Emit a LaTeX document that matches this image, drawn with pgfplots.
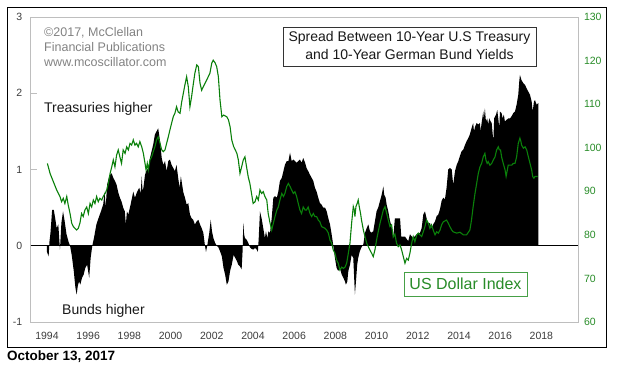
\documentclass[border=0pt]{standalone}
\usepackage{pgfplots}
\pgfplotsset{compat=1.18}
\usepackage{fontspec}
\setmainfont{Liberation Sans}
\definecolor{lgreen}{RGB}{10,128,10}
\definecolor{tgreen}{RGB}{40,140,40}
\definecolor{bgreen}{RGB}{70,160,70}
\definecolor{frame}{RGB}{190,190,190}
\definecolor{cgray}{RGB}{130,130,130}
\definecolor{tkgray}{RGB}{60,60,60}
\begin{document}
\begin{tikzpicture}[x=1pt,y=1pt]
\path (0,0) rectangle (629,369);
\draw[black, line width=0.9pt] (7,22) rectangle (606,362);
\begin{axis}[
  at={(30.7pt,47pt)}, anchor=south west, scale only axis,
  width=547.3pt, height=305pt,
  xmin=1993.21, xmax=2019.78, ymin=-1, ymax=3,
  axis line style={frame, line width=0.8pt},
  xtick={1994,1996,...,2018},
  xticklabels={1994,1996,1998,2000,2002,2004,2006,2008,2010,2012,2014,2016,2018},
  ytick={-1,0,1,2,3},
  yticklabels={-1,0,1,2,3},
  ytick pos=left, tick align=inside, major tick length=6pt,
  xtick style={draw=none},
  ytick style={frame, line width=0.8pt},
  tick label style={font=\fontsize{10.5}{12}\selectfont, text=tkgray},
  yticklabel style={xshift=-5pt},
  xticklabel style={yshift=-7pt},
]
\addplot[fill=black, draw=none] coordinates {
(1994.00,-0.08) (1994.08,-0.14) (1994.12,0.05) (1994.17,0.17) (1994.25,0.47) (1994.33,0.47)
(1994.40,0.36) (1994.47,0.23) (1994.55,0.28) (1994.63,-0.05) (1994.70,0.30) (1994.78,0.45)
(1994.86,0.32) (1994.95,0.15) (1995.05,0.05) (1995.12,0.00) (1995.20,-0.12) (1995.30,-0.33)
(1995.38,-0.55) (1995.44,-0.64) (1995.50,-0.52) (1995.56,-0.47) (1995.62,-0.51) (1995.70,-0.42)
(1995.78,-0.38) (1995.86,-0.29) (1995.95,-0.25) (1996.05,-0.42) (1996.12,-0.16) (1996.20,0.00)
(1996.28,0.10) (1996.40,0.28) (1996.50,0.36) (1996.62,0.45) (1996.73,0.54) (1996.80,0.71)
(1996.85,0.50) (1996.92,0.80) (1997.00,0.89) (1997.06,0.93) (1997.14,0.95) (1997.22,0.89)
(1997.30,0.85) (1997.38,0.80) (1997.46,0.70) (1997.54,0.63) (1997.62,0.58) (1997.70,0.50)
(1997.78,0.45) (1997.83,0.28) (1997.88,0.45) (1997.95,0.41) (1998.06,0.54) (1998.19,0.71)
(1998.27,0.63) (1998.38,0.71) (1998.48,0.76) (1998.55,0.69) (1998.60,0.91) (1998.64,0.72)
(1998.68,0.76) (1998.76,0.93) (1998.82,0.98) (1998.92,1.02) (1999.00,1.15) (1999.08,1.24)
(1999.16,1.33) (1999.24,1.46) (1999.32,1.50) (1999.40,1.54) (1999.49,1.37) (1999.57,1.15)
(1999.65,1.06) (1999.73,1.11) (1999.81,0.98) (1999.89,1.11) (1999.97,1.13) (2000.05,1.06)
(2000.13,1.02) (2000.21,0.98) (2000.29,1.06) (2000.37,0.89) (2000.44,0.76) (2000.50,0.91)
(2000.62,0.70) (2000.70,0.63) (2000.78,0.54) (2000.86,0.56) (2000.94,0.41) (2001.02,0.36)
(2001.10,0.34) (2001.18,0.28) (2001.27,0.32) (2001.35,0.34) (2001.43,0.28) (2001.51,0.23)
(2001.59,0.17) (2001.67,0.00) (2001.72,-0.08) (2001.78,0.00) (2001.88,0.17) (2001.95,0.34)
(2002.01,0.19) (2002.08,0.10) (2002.16,0.04) (2002.24,0.00) (2002.32,-0.02) (2002.40,-0.07)
(2002.49,-0.14) (2002.57,-0.29) (2002.65,-0.38) (2002.73,-0.51) (2002.81,-0.47) (2002.89,-0.33)
(2002.97,-0.25) (2003.06,-0.12) (2003.14,-0.16) (2003.22,-0.20) (2003.29,-0.25) (2003.37,-0.27)
(2003.45,-0.31) (2003.50,-0.05) (2003.53,0.30) (2003.57,0.15) (2003.61,0.10) (2003.69,0.08)
(2003.77,0.04) (2003.85,-0.02) (2003.93,-0.04) (2004.01,-0.05) (2004.10,-0.03) (2004.18,-0.05)
(2004.24,-0.08) (2004.28,0.10) (2004.34,0.45) (2004.42,0.36) (2004.50,0.23) (2004.58,0.10)
(2004.63,0.19) (2004.70,0.10) (2004.75,0.19) (2004.83,0.17) (2004.91,0.36) (2004.99,0.63)
(2005.07,0.65) (2005.16,0.63) (2005.23,0.71) (2005.31,0.85) (2005.40,0.89) (2005.48,0.98)
(2005.55,1.06) (2005.64,1.11) (2005.72,1.11) (2005.80,1.22) (2005.88,1.11) (2005.96,1.13)
(2006.04,1.11) (2006.12,1.09) (2006.20,1.11) (2006.28,1.13) (2006.36,1.09) (2006.44,1.15)
(2006.53,1.09) (2006.60,1.02) (2006.68,0.98) (2006.77,0.93) (2006.85,0.89) (2006.93,0.85)
(2007.01,0.76) (2007.09,0.71) (2007.17,0.63) (2007.25,0.56) (2007.33,0.54) (2007.41,0.50)
(2007.50,0.50) (2007.58,0.45) (2007.66,0.36) (2007.74,0.28) (2007.82,0.15) (2007.90,0.00)
(2007.98,-0.16) (2008.06,-0.29) (2008.14,-0.33) (2008.22,-0.29) (2008.31,-0.38) (2008.39,-0.42)
(2008.47,-0.47) (2008.51,-0.51) (2008.58,-0.47) (2008.63,-0.33) (2008.71,-0.25) (2008.79,-0.12)
(2008.87,-0.16) (2008.95,-0.64) (2009.00,-0.47) (2009.06,-0.25) (2009.11,-0.16) (2009.19,-0.07)
(2009.27,-0.02) (2009.36,0.02) (2009.44,0.17) (2009.52,0.23) (2009.60,0.28) (2009.68,0.19)
(2009.76,0.17) (2009.84,0.19) (2009.92,0.32) (2010.00,0.45) (2010.08,0.50) (2010.17,0.59)
(2010.25,0.67) (2010.33,0.78) (2010.37,0.67) (2010.44,0.63) (2010.49,0.54) (2010.57,0.45)
(2010.65,0.33) (2010.73,0.25) (2010.81,0.10) (2010.89,0.36) (2011.05,0.36) (2011.14,0.36)
(2011.20,0.12) (2011.38,0.12) (2011.54,0.06) (2011.62,0.15) (2011.78,0.10) (2011.95,0.15)
(2012.11,0.17) (2012.19,0.23) (2012.27,0.41) (2012.35,0.45) (2012.43,0.36) (2012.51,0.28)
(2012.59,0.30) (2012.67,0.23) (2012.75,0.28) (2012.84,0.32) (2012.92,0.39) (2013.00,0.41)
(2013.08,0.48) (2013.16,0.59) (2013.24,0.63) (2013.32,0.61) (2013.40,0.76) (2013.48,1.00)
(2013.56,1.02) (2013.65,1.00) (2013.72,0.80) (2013.81,0.98) (2013.89,1.06) (2013.97,1.11)
(2014.05,1.18) (2014.13,1.24) (2014.21,1.26) (2014.29,1.32) (2014.37,1.37) (2014.45,1.41)
(2014.53,1.46) (2014.61,1.54) (2014.69,1.61) (2014.73,1.50) (2014.78,1.56) (2014.86,1.61)
(2014.94,1.59) (2015.02,1.61) (2015.05,1.50) (2015.10,1.61) (2015.18,1.76) (2015.21,1.67)
(2015.26,1.80) (2015.31,1.63) (2015.37,1.67) (2015.42,1.59) (2015.47,1.67) (2015.54,1.63)
(2015.59,1.61) (2015.64,1.46) (2015.67,1.37) (2015.71,1.67) (2015.80,1.72) (2015.86,1.78)
(2015.91,1.67) (2015.96,1.54) (2015.99,1.76) (2016.07,1.74) (2016.12,1.67) (2016.18,1.72)
(2016.23,1.63) (2016.31,1.65) (2016.39,1.67) (2016.48,1.67) (2016.56,1.70) (2016.64,1.74)
(2016.72,1.76) (2016.80,1.85) (2016.88,1.98) (2016.93,2.16) (2016.96,2.24) (2017.04,2.17)
(2017.13,2.13) (2017.21,2.11) (2017.29,2.06) (2017.37,2.02) (2017.45,1.98) (2017.53,1.89)
(2017.58,1.76) (2017.64,1.89) (2017.69,1.91) (2017.77,1.85) (2017.85,1.87)
} \closedcycle;
\addplot[black, line width=1.2pt] coordinates {(1993.21,0) (2019.78,0)};
\end{axis}
\begin{axis}[
  at={(30.7pt,47pt)}, anchor=south west, scale only axis,
  width=547.3pt, height=305pt,
  xmin=1993.21, xmax=2019.78, ymin=60, ymax=130,
  axis y line*=right, axis x line=none,
  axis line style={draw=none},
  ytick={60,70,...,130},
  yticklabels={60,70,80,90,100,110,120,130},
  ytick style={draw=none},
  yticklabel style={font=\fontsize{10.5}{12}\selectfont, text=tgreen, xshift=2.5pt},
]
\addplot[lgreen, line width=1.1pt] coordinates {
(1994.02,96.4) (1994.15,94.1) (1994.31,92.2) (1994.47,90.3) (1994.63,88.8) (1994.71,87.6)
(1994.79,88.4) (1994.87,87.2) (1994.96,88.8) (1995.03,86.9) (1995.12,84.9) (1995.20,82.7)
(1995.28,81.9) (1995.44,81.1) (1995.52,81.5) (1995.60,82.7) (1995.68,84.9) (1995.76,84.2)
(1995.84,85.7) (1995.93,86.4) (1996.01,84.9) (1996.09,87.2) (1996.17,86.4) (1996.25,88.0)
(1996.33,87.2) (1996.41,88.8) (1996.49,87.6) (1996.57,88.4) (1996.66,88.0) (1996.73,88.8)
(1996.82,89.5) (1996.90,90.3) (1996.98,91.8) (1997.06,94.0) (1997.14,95.5) (1997.22,97.2)
(1997.30,95.6) (1997.38,98.3) (1997.46,99.5) (1997.54,97.9) (1997.62,96.4) (1997.70,99.5)
(1997.79,98.7) (1997.87,100.2) (1997.95,99.5) (1998.03,101.0) (1998.11,100.6) (1998.19,101.8)
(1998.27,100.6) (1998.35,101.0) (1998.43,100.2) (1998.51,101.4) (1998.60,100.2) (1998.68,98.7)
(1998.76,96.4) (1998.81,94.9) (1998.87,96.4) (1998.92,94.9) (1999.00,97.2) (1999.08,97.9)
(1999.16,99.1) (1999.24,100.2) (1999.32,101.8) (1999.40,102.5) (1999.49,101.0) (1999.57,99.5)
(1999.65,99.1) (1999.73,99.5) (1999.81,101.0) (1999.89,102.5) (1999.97,104.1) (2000.05,105.6)
(2000.13,107.1) (2000.21,107.9) (2000.29,109.4) (2000.37,108.2) (2000.46,107.9) (2000.54,110.5)
(2000.62,112.5) (2000.70,114.5) (2000.78,116.3) (2000.86,114.0) (2000.94,109.4) (2001.02,111.7)
(2001.10,114.5) (2001.18,117.1) (2001.27,119.0) (2001.35,118.6) (2001.43,114.8) (2001.51,113.2)
(2001.59,114.0) (2001.75,115.5) (2001.91,117.1) (2002.00,119.4) (2002.07,120.1) (2002.16,119.5)
(2002.24,118.6) (2002.32,116.3) (2002.40,111.0) (2002.49,107.1) (2002.57,107.5) (2002.65,107.3)
(2002.73,107.1) (2002.81,106.4) (2002.89,104.8) (2002.97,101.8) (2003.06,100.3) (2003.14,99.5)
(2003.22,98.7) (2003.29,97.2) (2003.37,94.1) (2003.45,95.6) (2003.53,97.2) (2003.61,97.9)
(2003.69,95.6) (2003.77,93.3) (2003.85,91.8) (2003.93,89.5) (2004.01,87.2) (2004.10,87.6)
(2004.18,88.8) (2004.26,88.0) (2004.34,90.3) (2004.42,89.5) (2004.50,89.9) (2004.58,88.8)
(2004.67,88.0) (2004.74,84.9) (2004.83,82.7) (2004.91,81.1) (2004.99,82.7) (2005.07,84.2)
(2005.16,85.7) (2005.23,86.4) (2005.31,88.0) (2005.40,89.5) (2005.48,88.8) (2005.55,89.5)
(2005.64,91.1) (2005.72,91.8) (2005.80,91.1) (2005.88,90.3) (2005.96,89.5) (2006.04,89.9)
(2006.12,88.8) (2006.20,87.2) (2006.28,85.7) (2006.36,84.9) (2006.44,86.4) (2006.53,85.7)
(2006.60,85.7) (2006.68,86.4) (2006.77,84.9) (2006.85,84.2) (2006.93,84.9) (2007.01,84.2)
(2007.09,84.2) (2007.17,83.4) (2007.25,83.0) (2007.33,81.9) (2007.41,81.7) (2007.50,81.5)
(2007.58,81.1) (2007.66,80.4) (2007.74,78.8) (2007.82,78.1) (2007.90,76.5) (2007.98,75.8)
(2008.06,74.2) (2008.14,73.5) (2008.22,71.9) (2008.31,72.6) (2008.39,72.3) (2008.47,72.6)
(2008.55,73.5) (2008.63,75.8) (2008.71,78.1) (2008.79,82.7) (2008.87,86.5) (2008.92,85.7)
(2008.95,84.2) (2009.00,86.5) (2009.06,87.2) (2009.11,88.0) (2009.16,86.5) (2009.22,85.0)
(2009.27,83.4) (2009.36,81.1) (2009.44,79.6) (2009.52,78.1) (2009.60,77.3) (2009.68,76.5)
(2009.76,75.8) (2009.84,75.0) (2009.92,76.5) (2010.00,78.8) (2010.08,80.7) (2010.17,82.7)
(2010.25,84.2) (2010.33,85.7) (2010.41,86.5) (2010.49,85.0) (2010.57,83.4) (2010.65,81.9)
(2010.73,82.3) (2010.81,79.5) (2010.89,80.2) (2010.97,78.1) (2011.05,77.3) (2011.14,77.7)
(2011.22,76.5) (2011.30,75.0) (2011.38,73.5) (2011.46,74.6) (2011.54,74.2) (2011.62,75.8)
(2011.70,78.0) (2011.78,79.6) (2011.86,78.4) (2011.95,80.0) (2012.03,80.4) (2012.11,80.0)
(2012.19,79.6) (2012.27,80.7) (2012.35,81.9) (2012.43,83.4) (2012.51,82.7) (2012.59,81.5)
(2012.67,82.3) (2012.75,81.1) (2012.84,80.0) (2012.92,80.7) (2013.00,80.4) (2013.08,81.1)
(2013.16,82.3) (2013.24,83.0) (2013.40,83.4) (2013.48,82.7) (2013.56,81.9) (2013.65,81.1)
(2013.72,80.7) (2013.89,80.4) (2014.05,80.6) (2014.21,80.0) (2014.37,80.0) (2014.53,81.1)
(2014.61,83.4) (2014.69,86.5) (2014.78,89.5) (2014.86,91.8) (2014.94,94.1) (2015.02,95.6)
(2015.10,96.4) (2015.18,97.9) (2015.26,98.7) (2015.31,97.2) (2015.37,96.4) (2015.42,96.8)
(2015.50,96.0) (2015.59,96.4) (2015.67,97.2) (2015.75,97.9) (2015.83,99.5) (2015.91,100.2)
(2015.96,99.5) (2016.02,99.5) (2016.07,97.9) (2016.15,96.4) (2016.24,94.9) (2016.29,93.4)
(2016.35,94.9) (2016.39,96.0) (2016.48,96.0) (2016.56,96.0) (2016.64,96.4) (2016.72,96.4)
(2016.80,97.9) (2016.88,101.0) (2016.96,102.2) (2017.01,101.4) (2017.04,100.6) (2017.13,99.9)
(2017.21,100.2) (2017.29,99.5) (2017.37,97.9) (2017.45,96.4) (2017.53,94.9) (2017.58,93.4)
(2017.64,93.0) (2017.69,93.4) (2017.82,93.4)
};
\end{axis}
% annotations
\node[anchor=north west, align=left, text=cgray, inner sep=0pt,
      font=\fontsize{12.5}{15}\selectfont] at (44,342) {©2017, McClellan\\Financial Publications\\www.mcoscillator.com};
\draw[black!80, line width=0.8pt, fill=white] (283,342) rectangle (536,303);
\node[align=center, text=black!90, inner sep=0pt, font=\fontsize{14}{18}\selectfont]
  at (409.5,323) {Spread Between 10-Year U.S Treasury\\and 10-Year German Bund Yields};
\node[anchor=west, inner sep=0pt, text=black!90, font=\fontsize{14}{17}\selectfont] at (44,260) {Treasuries higher};
\node[anchor=west, inner sep=0pt, text=black!90, font=\fontsize{14}{17}\selectfont] at (62,58) {Bunds higher};
\draw[bgreen, line width=0.8pt, fill=white] (404,97) rectangle (527,73);
\node[inner sep=0pt, text=tgreen, font=\fontsize{16}{19}\selectfont] at (465.5,85) {US Dollar Index};
\node[anchor=west, inner sep=0pt, font=\bfseries\fontsize{13.5}{16}\selectfont] at (7,12) {October 13, 2017};
\end{tikzpicture}
\end{document}
